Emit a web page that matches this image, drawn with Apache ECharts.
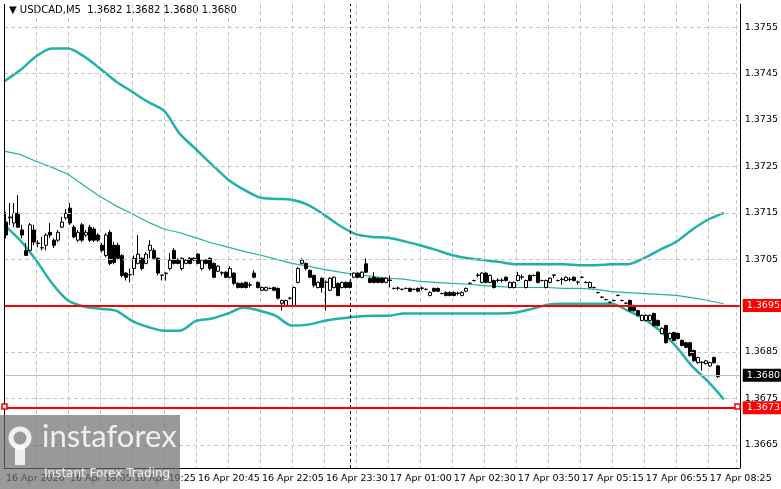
<!DOCTYPE html>
<html>
<head>
<meta charset="utf-8">
<script src="https://cdn.jsdelivr.net/npm/echarts@6/dist/echarts.min.js"></script>
<style>
  html, body { margin: 0; padding: 0; background: #fff; }
  #chart { width: 781px; height: 489px; }
</style>
</head>
<body>
<div id="chart"></div>
<script>
// candles: [open, close, low, high] in points above 1.36000 (1 point = 0.00001)
var candles = [
  [1130,1102,1095,1152],[1139,1141,1124,1171],[1128,1149,1119,1171],[1149,1119,1117,1188],[1113,1102,1095,1124],
  [1069,1058,1058,1085],[1069,1124,1067,1128],[1113,1087,1080,1124],[1085,1084,1076,1091],[1074,1075,1069,1098],
  [1080,1102,1069,1106],[1108,1102,1096,1128],[1091,1080,1074,1095],[1091,1108,1087,1113],[1119,1130,1117,1141],
  [1139,1149,1135,1158],[1160,1128,1124,1171],[1119,1098,1095,1124],[1091,1108,1087,1113],[1124,1091,1087,1128],
  [1102,1108,1098,1113],[1119,1091,1087,1124],[1115,1091,1087,1119],[1102,1091,1087,1106],[1080,1069,1065,1085],
  [1058,1102,1054,1106],[1108,1041,1037,1113],[1080,1043,1039,1087],[1080,1052,1048,1085],[1058,1015,1011,1061],
  [1020,1011,1004,1022],[1017,1016,1000,1030],[1030,1052,1015,1058],[1041,1061,1039,1102],[1052,1030,1026,1054],
  [1041,1061,1039,1065],[1069,1080,1052,1091],[1069,1052,1048,1074],[1052,1020,1015,1054],[1015,1016,1004,1017],
  [1020,1019,1004,1022],[1030,1048,1026,1063],[1069,1041,1039,1074],[1048,1041,1039,1052],[1030,1052,1026,1054],
  [1041,1048,1039,1050],[1052,1041,1039,1054],[1052,1048,1046,1054],[1061,1041,1039,1063],[1030,1048,1026,1050],
  [1048,1041,1039,1050],[1052,1030,1026,1054],[1041,1011,1009,1043],[1024,1035,1022,1037],[1020,1021,1015,1024],
  [1022,1011,1009,1024],[1011,1030,1009,1035],[1020,998,994,1022],[998,989,987,1000],[998,989,987,1000],
  [1000,989,987,1002],[994,995,989,1000],[1020,1011,1009,1026],[1000,989,987,1002],[983,989,981,991],
  [983,989,981,991],[987,987,985,989],[989,983,981,991],[987,966,963,989],[955,961,939,963],
  [950,961,948,963],[966,966,963,968],[950,989,948,991],[1000,1030,998,1033],[1041,1048,1039,1052],
  [1041,1030,1026,1043],[1026,1011,1009,1028],[1015,994,989,1017],[989,1000,987,1002],[1009,989,978,1011],
  [1000,1001,939,1004],[983,1009,981,1011],[989,1011,987,1013],[998,972,970,1000],[989,1000,987,1002],
  [1000,989,987,1002],[1000,989,987,1002],[1011,1020,1009,1022],[1020,1011,1009,1022],[1011,1022,1009,1024],
  [1040,1022,1020,1052],[1009,1000,998,1011],[1011,1000,998,1022],[1009,1000,998,1011],[1009,1000,998,1011],
  [1000,1009,998,1011],[1004,1005,989,1015],[987,987,985,989],[987,988,983,991],[985,985,983,987],
  [987,987,985,989],[987,981,979,989],[985,985,983,987],[987,981,979,989],[987,988,983,991],
  [985,985,983,987],[972,978,970,981],[987,981,979,989],[987,981,979,989],[976,976,974,978],
  [978,972,970,981],[978,972,970,981],[978,972,970,981],[976,977,972,980],[972,978,970,981],
  [981,987,979,989],[998,998,996,1000],[1004,1004,1002,1006],[1015,1016,1011,1020],[1000,1020,998,1022],
  [1020,1000,998,1022],[1000,1015,998,1017],[1004,989,987,1006],[1004,1005,1000,1009],[1004,1005,1000,1009],
  [1011,1004,1002,1013],[989,1000,987,1002],[989,1000,987,1002],[1004,1015,1002,1022],[1011,1012,1006,1017],
  [989,1004,987,1006],[1015,1004,1002,1017],[1015,1015,1013,1017],[1022,1000,998,1024],[1004,1004,1002,1006],
  [989,1004,987,1006],[1000,1009,998,1011],[1015,1016,1009,1018],[1004,1004,1002,1006],[1006,1007,995,1011],
  [1004,1011,1002,1013],[1006,1007,1002,1011],[1011,1004,1002,1013],[1000,1001,995,1004],[1011,1011,1009,1013],
  [1000,1000,998,1002],[989,1000,987,1002],[989,989,987,991],[978,978,976,980],[968,968,966,970],
  [963,963,961,965],[957,957,955,959],[961,961,959,963],[972,972,970,974],[961,961,959,963],
  [955,955,953,957],[961,939,937,963],[950,939,937,952],[939,929,927,941],[918,929,916,931],
  [918,929,916,931],[918,929,916,931],[933,907,905,935],[918,907,905,920],[890,901,888,903],
  [907,870,868,909],[879,890,877,892],[892,875,873,894],[890,879,877,892],[875,864,862,877],
  [870,860,858,872],[870,842,840,872],[853,831,829,855],[827,838,825,840],[827,828,810,830],
  [825,831,823,833],[820,827,818,829],[838,827,825,840],[820,797,794,822]
];
var barCount = 184;
// time labels at every 16th bar
var timeLabels = {
  0: '16 Apr 2026', 16: '16 Apr 18:05', 32: '16 Apr 19:25', 48: '16 Apr 20:45', 64: '16 Apr 22:05',
  80: '16 Apr 23:30', 96: '17 Apr 01:00', 112: '17 Apr 02:30', 128: '17 Apr 03:50', 144: '17 Apr 05:15',
  160: '17 Apr 06:55', 176: '17 Apr 08:25'
};
// Bollinger bands, one value every 4 bars
var bandUpper = [1.37433,1.37457,1.37487,1.37504,1.37504,1.37487,1.37461,1.37433,1.37411,1.37389,1.37370,1.37320,
  1.37287,1.37254,1.37222,1.37200,1.37183,1.37180,1.37178,1.37167,1.37146,1.37122,1.37104,1.37098,1.37096,1.37089,
  1.37080,1.37070,1.37059,1.37052,1.37048,1.37044,1.37039,1.37039,1.37039,1.37039,1.37037,1.37037,1.37039,1.37039,
  1.37052,1.37070,1.37087,1.37113,1.37135,1.37150];
var bandLower = [1.37124,1.37091,1.37048,1.36998,1.36961,1.36948,1.36943,1.36939,1.36917,1.36904,1.36896,1.36896,
  1.36917,1.36922,1.36933,1.36946,1.36939,1.36928,1.36907,1.36909,1.36917,1.36922,1.36926,1.36928,1.36928,1.36933,
  1.36933,1.36933,1.36933,1.36933,1.36933,1.36933,1.36935,1.36943,1.36952,1.36954,1.36954,1.36954,1.36954,1.36939,
  1.36922,1.36896,1.36863,1.36820,1.36787,1.36748];
var bandMiddle = [1.37283,1.37276,1.37261,1.37248,1.37233,1.37209,1.37185,1.37165,1.37148,1.37130,1.37115,1.37107,
  1.37096,1.37085,1.37076,1.37067,1.37059,1.37050,1.37041,1.37035,1.37028,1.37022,1.37017,1.37013,1.37009,1.37007,
  1.37002,1.37000,1.36998,1.36996,1.36993,1.36991,1.36989,1.36989,1.36989,1.36987,1.36987,1.36985,1.36980,1.36978,
  1.36976,1.36974,1.36972,1.36967,1.36961,1.36954];
var gridPrices = [1.3665,1.3675,1.3685,1.3695,1.3705,1.3715,1.3725,1.3735,1.3745,1.3755];
var supportLevel = 1.3673, resistLevel = 1.3695, lastPrice = 1.3680;
var cursorBar = 86;

var teal = '#20b2a6';
var cats = [], blanks = [];
for (var i = 0; i < barCount; i++) { cats.push(i); blanks.push(null); }
var bandCats = [];
for (var j = 0; j <= 46; j++) bandCats.push(j);
var ohlc = candles.map(function(c) {
  return c.map(function(p) { return +(1.36 + p / 100000).toFixed(5); });
});

function levelLine(price, color, bg, width) {
  return {
    yAxis: price, lineStyle: { color: color, type: 'solid', width: width },
    label: { show: true, position: 'end', formatter: price.toFixed(4), color: '#fff', backgroundColor: bg,
      fontSize: 9.5, padding: [2, 4, 1, 4], distance: 3 }
  };
}

var chart = echarts.init(document.getElementById('chart'), null, { renderer: 'canvas' });
chart.setOption({
  animation: false,
  textStyle: { fontFamily: 'DejaVu Sans' },
  grid: { left: 4, right: 41, top: 4, bottom: 21 },
  xAxis: [{
    type: 'category', data: cats, boundaryGap: true,
    axisLine: { lineStyle: { color: '#000' } }, axisTick: { show: false },
    axisLabel: {
      interval: 0, color: '#000', fontSize: 9.5, align: 'left', margin: 6,
      formatter: function(v, idx) { return timeLabels[idx] || ''; }
    },
    splitLine: { show: true, interval: 7, lineStyle: { color: '#c8c8c8', type: [4, 3] } }
  }, {
    type: 'category', data: bandCats, boundaryGap: false, show: false
  }],
  yAxis: {
    type: 'value', position: 'right', min: 1.3660, max: 1.3760, interval: 0.0005,
    axisLine: { show: true, lineStyle: { color: '#000' } },
    axisTick: { show: false },
    splitLine: { show: false },
    axisLabel: {
      color: '#000', fontSize: 9.5, margin: 5,
      formatter: function(v) { return Math.round(v * 10000) % 2 === 1 ? v.toFixed(4) : ''; }
    }
  },
  series: [{
    type: 'line', data: blanks, silent: true, showSymbol: false,
    markLine: {
      silent: true, symbol: 'none', precision: 5, label: { show: false },
      lineStyle: { color: '#c8c8c8', type: [4, 3], width: 1 },
      data: gridPrices.map(function(p) { return { yAxis: p }; })
    }
  }, {
    type: 'line', xAxisIndex: 1, data: bandMiddle, showSymbol: false, silent: true,
    lineStyle: { color: teal, width: 1.2 }
  }, {
    type: 'line', xAxisIndex: 1, data: bandUpper, showSymbol: false, silent: true, smooth: 0.3,
    lineStyle: { color: teal, width: 2.5 }
  }, {
    type: 'line', xAxisIndex: 1, data: bandLower, showSymbol: false, silent: true, smooth: 0.3,
    lineStyle: { color: teal, width: 2.5 }
  }, {
    type: 'line', data: blanks, silent: true, showSymbol: false, z: 5,
    markLine: {
      silent: true, symbol: 'none', precision: 5,
      data: [
        levelLine(lastPrice, '#c0c0c0', '#000', 1),
        { xAxis: cursorBar, lineStyle: { color: '#000', type: [3, 3], width: 1 }, label: { show: false } },
        levelLine(resistLevel, '#ff0000', '#ff0000', 2),
        levelLine(supportLevel, '#ff0000', '#ff0000', 2)
      ]
    }
  }, {
    type: 'candlestick', data: ohlc, barWidth: 3, z: 4,
    itemStyle: { color: '#fff', color0: '#000', borderColor: '#000', borderColor0: '#000', borderWidth: 1 }
  }],
  graphic: [
    { type: 'line', shape: { x1: 4.5, y1: 4, x2: 4.5, y2: 468 }, style: { stroke: '#000', lineWidth: 1 }, z: 50 },
    { type: 'rect', shape: { x: 2, y: 404, width: 5, height: 5 }, style: { fill: '#fff', stroke: '#ff0000', lineWidth: 1.5 }, z: 100 },
    { type: 'rect', shape: { x: 735, y: 404, width: 5, height: 5 }, style: { fill: '#fff', stroke: '#ff0000', lineWidth: 1.5 }, z: 100 },
    { type: 'text', left: 9, top: 5, style: { text: '\u25BC USDCAD,M5  1.3682 1.3682 1.3680 1.3680', fill: '#000', font: '10px DejaVu Sans' } },
    { type: 'rect', shape: { x: 0, y: 415, width: 180, height: 74 }, style: { fill: 'rgba(110,110,110,0.7)' }, z: 100 },
    { type: 'circle', shape: { cx: 20, cy: 438, r: 9 }, style: { fill: 'none', stroke: 'rgba(255,255,255,0.85)', lineWidth: 5 }, z: 101 },
    { type: 'rect', shape: { x: 15, y: 445, width: 10, height: 20 }, style: { fill: 'rgba(255,255,255,0.85)' }, z: 101 },
    { type: 'text', left: 42, top: 421, style: { text: 'instaforex', fill: 'rgba(255,255,255,0.85)', font: '31px Lato' }, z: 101 },
    { type: 'text', left: 44, top: 468, style: { text: 'Instant Forex Trading', fill: 'rgba(255,255,255,0.85)', font: '12px DejaVu Sans' }, z: 101 }
  ]
});
</script>
</body>
</html>
